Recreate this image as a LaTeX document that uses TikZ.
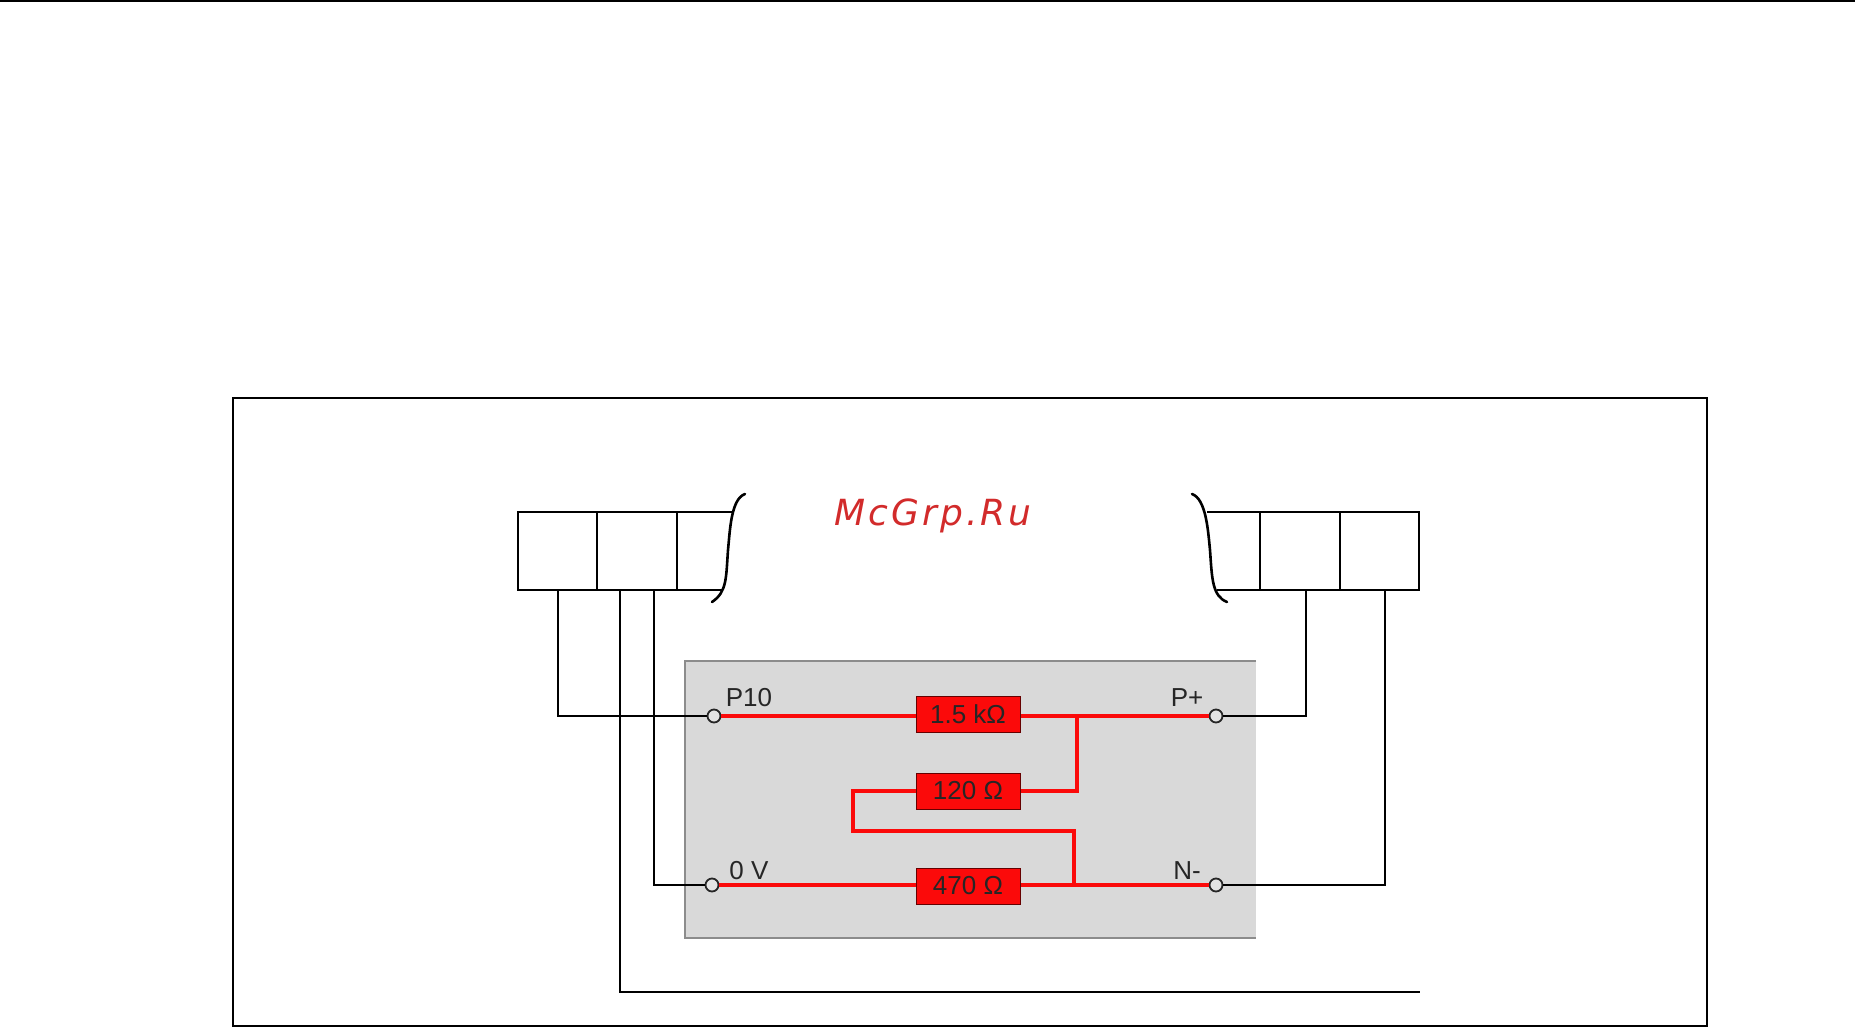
\documentclass[tikz,border=0pt]{standalone}
\usepackage{fontspec}
\setmainfont{Liberation Sans}
\newfontfamily\markfont[LetterSpace=8.3]{DejaVu Sans}
\definecolor{panelgray}{HTML}{D9D9D9}
\definecolor{paneledge}{HTML}{8C8C8C}
\definecolor{resred}{HTML}{FB0A0A}
\definecolor{markred}{HTML}{D22B2B}
\tikzset{
  blk/.style={black,line width=2.6pt},
  redw/.style={resred,line width=4.4pt},
  res/.style={draw=black!60!red,line width=0.6pt,fill=resred,minimum width=104pt,minimum height=36pt,inner sep=0pt,font=\fontsize{26}{26}\selectfont,text=black!85},
  term/.style={circle,draw=black!85,line width=1.8pt,fill=panelgray!70,minimum size=13pt,inner sep=0pt},
  lab/.style={font=\fontsize{26}{26}\selectfont,text=black!85,inner sep=0pt},
}
\begin{document}
\begin{tikzpicture}[x=1pt,y=-1pt]
\useasboundingbox (0,0) rectangle (1855,1027);

%page rule and frame
\draw[blk] (0,1)--(1855,1);
\draw[blk] (233,398) rectangle (1707,1026);

%left connector
\draw[blk] (732,512)--(518,512)--(518,590)--(722,590);
\draw[blk] (597,512)--(597,590);
\draw[blk] (677,512)--(677,590);
\draw[blk,line cap=round] (745,494) .. controls (731,499) and (730,530) .. (728,550) .. controls (726,578) and (727,592) .. (712,602);

%right connector
\draw[blk] (1207,512)--(1419,512)--(1419,590)--(1217,590);
\draw[blk] (1260,512)--(1260,590);
\draw[blk] (1340,512)--(1340,590);
\draw[blk,line cap=round] (1192,494) .. controls (1206,499) and (1208,530) .. (1210,550) .. controls (1212,578) and (1212,596) .. (1227,602);

%panel
\fill[panelgray] (685,661) rectangle (1256,938);
\draw[paneledge,line width=1.5pt] (1256,661)--(685,661)--(685,938)--(1256,938);

%terminals and labels
\node[term] (tPten) at (714,716) {};
\node[term] (tPplus) at (1216,716) {};
\node[term] (tZero) at (712,885) {};
\node[term] (tNminus) at (1216,885) {};

\node[lab] (lPten) at (749,698) {P10};
\node[lab] (lPplus) at (1187,698) {P+};
\node[lab] (lZero) at (749,871) {0 V};
\node[lab] (lNminus) at (1187,871) {N-};

%red wiring
\coordinate (rOneC) at (968,714);
\coordinate (rTwoC) at (968,791);
\coordinate (rThreeC) at (968,886);
\coordinate (jTop) at (1077,716);
\coordinate (jBot) at (1074,885);
\coordinate (loopA) at (853,791);
\coordinate (loopB) at (853,831);
\draw[redw] (tPten)--(tPplus);
\draw[redw] (tZero)--(tNminus);
\draw[redw] (jTop)|-(rTwoC);
\draw[redw] (rTwoC)--(loopA)--(loopB)-|(jBot);

%resistors on top of the wiring
\node[res] (rOne) at (rOneC) {1.5 kΩ};
\node[res] (rTwo) at (rTwoC) {120 Ω};
\node[res] (rThree) at (rThreeC) {470 Ω};

%black wiring
\coordinate (sA) at (558,590);
\coordinate (sB) at (620,590);
\coordinate (sC) at (654,590);
\coordinate (sD) at (1306,590);
\coordinate (sE) at (1385,590);
\coordinate (sF) at (1420,992);
\draw[blk] (sA)|-(tPten);
\draw[blk] (sB)|-(sF);
\draw[blk] (sC)|-(tZero);
\draw[blk] (sD)|-(tPplus);
\draw[blk] (sE)|-(tNminus);

\node[inner sep=0pt,text=markred] (mark) at (933,516) {\markfont\itshape\fontsize{36}{36}\selectfont McGrp.Ru};

\end{tikzpicture}
\end{document}
